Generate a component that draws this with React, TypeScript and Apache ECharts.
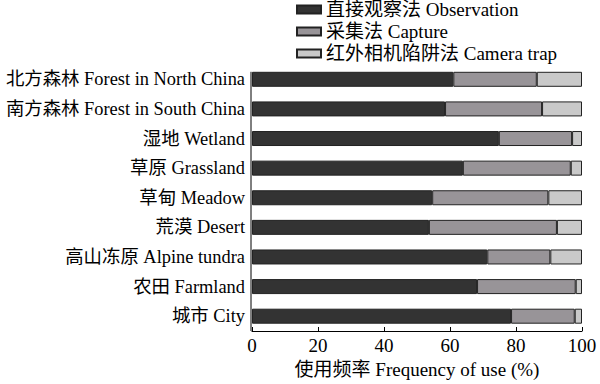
import React, { useEffect, useRef } from "react";
import * as echarts from "echarts";

const categories = [
  "北方森林 Forest in North China",
  "南方森林 Forest in South China",
  "湿地 Wetland",
  "草原 Grassland",
  "草甸 Meadow",
  "荒漠 Desert",
  "高山冻原 Alpine tundra",
  "农田 Farmland",
  "城市 City",
];
const observation = [61.0, 58.5, 74.8, 63.9, 54.6, 53.6, 71.3, 68.2, 78.5];
const capture = [25.3, 29.4, 22.2, 32.7, 35.2, 38.8, 19.1, 29.9, 19.3];
const cameraTrap = [13.7, 12.1, 3.0, 3.4, 10.2, 7.6, 9.6, 1.9, 2.2];
const seriesNames = ["直接观察法 Observation", "采集法 Capture", "红外相机陷阱法 Camera trap"];
const xTicks = [0, 20, 40, 60, 80, 100];

const FONT = "'Liberation Serif', 'Noto Sans CJK SC', serif";
const FS = 19;
const BAR_W = 15;

export default function App() {
  const ref = useRef<HTMLDivElement>(null);
  useEffect(() => {
    if (!ref.current) return;
    const chart = echarts.init(ref.current, undefined, { renderer: "svg" });
    const colors = ["#333333", "#989498", "#c9c9c9"];
    const data = [observation, capture, cameraTrap];
    chart.setOption({
      animation: false,
      backgroundColor: "#ffffff",
      textStyle: { fontFamily: FONT, color: "#000" },
      legend: {
        orient: "vertical",
        left: 296,
        top: 0,
        padding: 0,
        icon: "rect",
        itemWidth: 24,
        itemHeight: 8,
        itemGap: 3,
        selectedMode: false,
        textStyle: { fontSize: FS, fontFamily: FONT, color: "#000" },
        data: seriesNames,
      },
      grid: {
        left: 252,
        right: 18,
        top: 64.5,
        bottom: 53,
        containLabel: false,
        outerBoundsMode: "none",
      },
      xAxis: {
        type: "value",
        min: xTicks[0],
        max: xTicks[xTicks.length - 1],
        interval: xTicks[1] - xTicks[0],
        name: "使用频率 Frequency of use (%)",
        nameLocation: "middle",
        nameGap: 29,
        nameTextStyle: { fontSize: FS, fontFamily: FONT, color: "#000" },
        axisLine: { show: true, lineStyle: { color: "#000", width: 1 } },
        axisTick: { show: true, inside: true, length: 4, lineStyle: { color: "#000" } },
        axisLabel: { fontSize: FS, fontFamily: FONT, color: "#000", margin: 5 },
        splitLine: { show: false },
      },
      yAxis: {
        type: "category",
        inverse: true,
        data: categories,
        axisLine: { show: false },
        axisTick: { show: false },
        axisLabel: { fontSize: 18.4, fontFamily: FONT, color: "#000", margin: 7 },
      },
      series: seriesNames.map((name, i) => ({
        name,
        type: "bar",
        stack: "total",
        barWidth: BAR_W,
        data: data[i],
        itemStyle: { color: colors[i], borderColor: "#222", borderWidth: 1 },
      })),
    });
    const y0 = chart.convertToPixel({ yAxisIndex: 0 }, categories[0]) as number;
    const yN = chart.convertToPixel({ yAxisIndex: 0 }, categories[categories.length - 1]) as number;
    const band = (yN - y0) / (categories.length - 1);
    const x0 = chart.convertToPixel({ xAxisIndex: 0 }, 0) as number;
    chart.setOption({
      graphic: [
        {
          type: "line",
          shape: { x1: x0 - 1, y1: y0 - BAR_W / 2, x2: x0 - 1, y2: yN + band / 2 },
          style: { stroke: "#000", lineWidth: 1 },
          z: 10,
        },
      ],
    });
    return () => chart.dispose();
  }, []);
  return (
    <div
      ref={ref}
      style={{ position: "fixed", left: 0, top: 0, width: 600, height: 384, background: "#fff" }}
    />
  );
}
